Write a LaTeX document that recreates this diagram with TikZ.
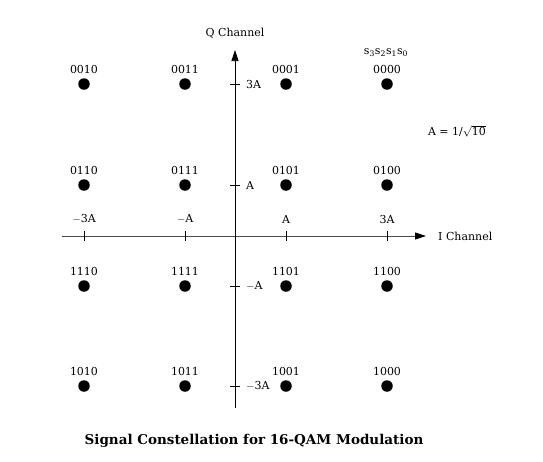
\documentclass[tikz,border=0pt]{standalone}
\usepackage{fontspec}
\setmainfont{DejaVu Serif}
\usetikzlibrary{arrows.meta}
\tikzset{
  axis/.style={line width=0.9pt, -{Triangle[length=11pt, width=7pt, color=black]}},
  sym/.style={circle, fill=black, inner sep=0pt, minimum size=11.5pt},
  bits/.style={font=\fontsize{11}{13}\selectfont, inner sep=1pt},
  ticklab/.style={font=\fontsize{11}{13}\selectfont, inner sep=1pt},
  tick/.style={line width=0.6pt}
}
\begin{document}
\begin{tikzpicture}[x=1pt,y=-1pt]
  \useasboundingbox (0,0) rectangle (543,461);
  % axes
  \coordinate (O) at (235,236);
  \coordinate (Iw) at (62,236);
  \coordinate (Ie) at (426,236);
  \coordinate (Qs) at (235,408);
  \coordinate (Qn) at (235,50);
  \draw[axis, draw=black!70] (Iw) -- (Ie);
  \draw[axis, line width=0.7pt] (Qs) -- (Qn);
  \node[ticklab, anchor=west] (ilab) at (437,236) {I Channel};
  \node[ticklab] (qlab) at (235,33) {Q Channel};
  % ticks on I axis
  \foreach \x/\t in {84/{$-$3A},185/{$-$A},286/A,387/3A}{
    \draw[tick] (\x,231) -- (\x,241);
    \node[ticklab] at (\x,219) {\t};
  }
  % ticks on Q axis
  \foreach \y/\t in {84/3A,185/A,286/{$-$A},386/{$-$3A}}{
    \draw[tick] (230,\y) -- (240,\y);
    \node[ticklab, anchor=west] at (245,\y) {\t};
  }
  % constellation points
  \foreach \x/\y/\b in {84/84/0010,185/84/0011,286/84/0001,387/84/0000,
                        84/185/0110,185/185/0111,286/185/0101,387/185/0100,
                        84/286/1110,185/286/1111,286/286/1101,387/286/1100,
                        84/386/1010,185/386/1011,286/386/1001,387/386/1000}{
    \node[sym] (p\b) at (\x,\y) {};
    \node[bits, above=3pt] at (p\b.north) {\b};
  }
  \node[bits] (order) at (386,53) {s\textsubscript{3}s\textsubscript{2}s\textsubscript{1}s\textsubscript{0}};
  \node[ticklab] (anorm) at (457,131) {A = 1/$\sqrt{\mbox{10}}$};
  % caption
  \node[font=\bfseries\fontsize{13.5}{16}\selectfont] (title) at (254,441) {Signal Constellation for 16-QAM Modulation};
\end{tikzpicture}
\end{document}
